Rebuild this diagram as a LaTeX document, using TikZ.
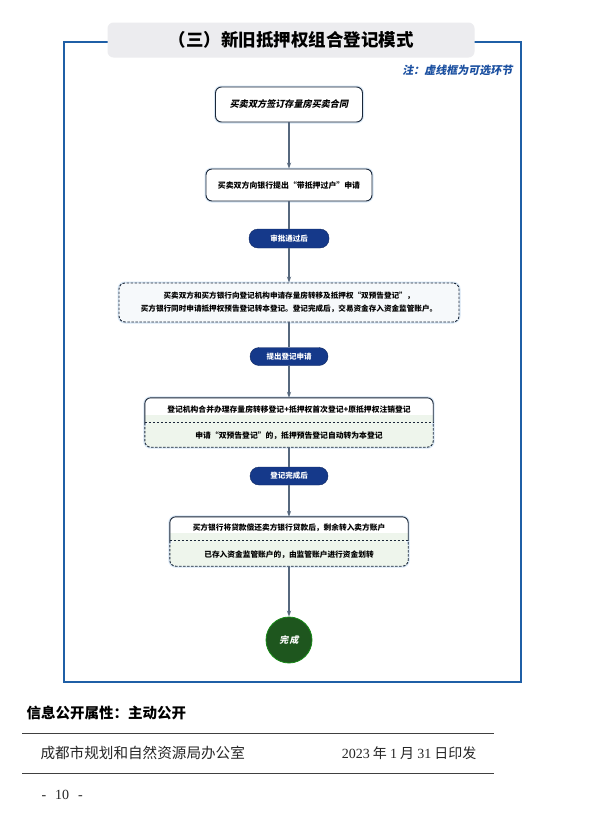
\documentclass[tikz,border=0pt]{standalone}
\usepackage{fontspec}
\setmainfont{Noto Sans CJK SC}
\newfontfamily\slantcjk[FakeSlant=0.2]{Noto Sans CJK SC}
\newfontfamily\serifnum{Liberation Serif}
\usetikzlibrary{arrows.meta}
\definecolor{frameblue}{HTML}{1F5FA6}
\definecolor{navy}{HTML}{1B2738}
\definecolor{pillblue}{HTML}{15398A}
\definecolor{arrowgray}{HTML}{56687E}
\definecolor{donegreen}{HTML}{1E561E}
\definecolor{lightgreen}{HTML}{EEF5EC}
\definecolor{lightfill}{HTML}{F6F9FB}
\definecolor{titlegray}{HTML}{ECECEF}
\definecolor{noteblue}{HTML}{1A4FA0}
\definecolor{glow}{HTML}{D6E6F5}
\tikzset{
  solidbox/.style={draw=navy, line width=0.9pt, rounded corners=6pt, fill=white, align=center, inner sep=0pt,
                   preaction={draw=glow, line width=3pt}},
  dashbox/.style={draw=navy, line width=0.9pt, dashed, dash pattern=on 2.5pt off 1.5pt, rounded corners=6pt, fill=lightfill, align=center, inner sep=0pt,
                  preaction={draw=glow, solid, line width=3pt}},
  part/.style={inner sep=0pt, align=center},
  pill/.style={fill=pillblue, draw=pillblue!70!black, rounded corners=9pt, text=white, inner sep=0pt, font=\fontsize{7.5}{9}\selectfont\bfseries},
  conn/.style={draw=arrowgray, line width=1.1pt},
  arr/.style={conn, -{Stealth[length=6pt,width=4.2pt]}},
  boxtxt/.style={font=\fontsize{7.6}{13}\selectfont\bfseries},
  navyline/.style={navy, line width=0.9pt, rounded corners=6pt},
  navydash/.style={navy, line width=0.9pt, dash pattern=on 2.5pt off 1.5pt, rounded corners=6pt},
  glowline/.style={glow, line width=3pt, rounded corners=6pt},
}
\begin{document}
\begin{tikzpicture}[x=1pt,y=-1pt]
\useasboundingbox (0,0) rectangle (591,827);
\fill[white] (0,0) rectangle (591,827);
% frame
\draw[frameblue, line width=1.6pt] (64,42) rectangle (521,682);
\node[fill=titlegray, rounded corners=6pt, minimum width=367pt, minimum height=35pt, inner sep=0pt,
      font=\fontsize{17.5}{20}\selectfont\bfseries] (title) at (291,40) {（三）新旧抵押权组合登记模式};
\node[anchor=east, text=noteblue, font=\fontsize{11}{13}\selectfont\slantcjk\bfseries] (note) at (516,70) {注：虚线框为可选环节};

% boxes
\node[solidbox, minimum width=147pt, minimum height=35pt, font=\fontsize{9.1}{11}\selectfont\slantcjk\bfseries] (b1) at (289,104.5) {买卖双方签订存量房买卖合同};
\node[solidbox, minimum width=166pt, minimum height=32pt, font=\fontsize{7.9}{10}\selectfont\bfseries] (b2) at (289,185) {买卖双方向银行提出“带抵押过户”申请};
\node[pill, minimum width=80pt, minimum height=19pt] (p1) at (289,238.5) {审批通过后};
\node[dashbox, minimum width=340pt, minimum height=39pt, boxtxt] (b3) at (289,302.5) {买卖双方和买方银行向登记机构申请存量房转移及抵押权“双预告登记”，\\买方银行同时申请抵押权预告登记转本登记。登记完成后，交易资金存入资金监管账户。};
\node[pill, minimum width=78pt, minimum height=18pt] (p2) at (289,356.5) {提出登记申请};

% box 4 (two parts)
\node[part, minimum width=288pt, minimum height=25pt] (b4a) at (289,410.5) {};
\node[part, minimum width=288pt, minimum height=24pt] (b4b) at (289,435) {};
\draw[glowline] (b4a.south west) -- (b4a.north west) -- (b4a.north east) -- (b4a.south east) -- (b4b.north east) -- (b4b.south east) -- (b4b.south west) -- (b4b.north west) -- cycle;
\fill[white, rounded corners=6pt] (b4a.south west) -- (b4a.north west) -- (b4a.north east) -- (b4a.south east) -- cycle;
\fill[lightgreen, rounded corners=6pt] (b4b.north west) -- (b4b.south west) -- (b4b.south east) -- (b4b.north east) -- cycle;
\fill[lightgreen] ([yshift=-0.5pt]b4b.north west) rectangle ([yshift=8pt]b4b.north east);
\draw[navyline] (b4a.south west) -- (b4a.north west) -- (b4a.north east) -- (b4a.south east);
\draw[navydash] (b4b.north west) -- (b4b.south west) -- (b4b.south east) -- (b4b.north east);
\draw[navydash] (b4b.north west) -- (b4b.north east);
\node[part, font=\fontsize{7.8}{10}\selectfont\bfseries] (t4a) at ([yshift=1pt]b4a.center) {登记机构合并办理存量房转移登记+抵押权首次登记+原抵押权注销登记};
\node[part, font=\fontsize{7.8}{10}\selectfont\bfseries] (t4b) at ([yshift=-1pt]b4b.center) {申请“双预告登记”的，抵押预告登记自动转为本登记};

\node[pill, minimum width=78pt, minimum height=18pt] (p3) at (289,476) {登记完成后};

% box 5 (two parts)
\node[part, minimum width=238pt, minimum height=24pt] (b5a) at (289,529) {};
\node[part, minimum width=238pt, minimum height=25pt] (b5b) at (289,553.5) {};
\draw[glowline] (b5a.south west) -- (b5a.north west) -- (b5a.north east) -- (b5a.south east) -- (b5b.north east) -- (b5b.south east) -- (b5b.south west) -- (b5b.north west) -- cycle;
\fill[white, rounded corners=6pt] (b5a.south west) -- (b5a.north west) -- (b5a.north east) -- (b5a.south east) -- cycle;
\fill[lightgreen, rounded corners=6pt] (b5b.north west) -- (b5b.south west) -- (b5b.south east) -- (b5b.north east) -- cycle;
\fill[lightgreen] ([yshift=-0.5pt]b5b.north west) rectangle ([yshift=8pt]b5b.north east);
\draw[navyline] (b5a.south west) -- (b5a.north west) -- (b5a.north east) -- (b5a.south east);
\draw[navydash] (b5b.north west) -- (b5b.south west) -- (b5b.south east) -- (b5b.north east);
\draw[navydash] (b5b.north west) -- (b5b.north east);
\node[part, font=\fontsize{7.7}{10}\selectfont\bfseries] (t5a) at ([yshift=1pt]b5a.center) {买方银行将贷款偿还卖方银行贷款后，剩余转入卖方账户};
\node[part, font=\fontsize{7.7}{10}\selectfont\bfseries] (t5b) at ([yshift=-1pt]b5b.center) {已存入资金监管账户的，由监管账户进行资金划转};

\node[circle, fill=donegreen, draw=donegreen!70!green, line width=0.8pt, minimum size=46pt, inner sep=0pt, text=white,
      font=\fontsize{9}{11}\selectfont\slantcjk\bfseries] (done) at (289,640) {完\,成};

% connectors
\draw[arr] (b1) -- (b2);
\draw[conn] (b2) -- (p1);
\draw[arr] (p1) -- (b3);
\draw[conn] (b3) -- (p2);
\draw[arr] (p2) -- (b4a.north);
\draw[conn] (b4b.south) -- (p3);
\draw[arr] (p3) -- (b5a.north);
\draw[arr] (b5b.south) -- (done);

% footer
\node[anchor=west, font=\fontsize{14.5}{16}\selectfont\bfseries] (attr) at (23,713) {信息公开属性：主动公开};
\coordinate (l1a) at (22,733); \coordinate (l1b) at (494,733);
\coordinate (l2a) at (22,773); \coordinate (l2b) at (494,773);
\draw[black!75, line width=1pt] (l1a) -- (l1b);
\draw[black!75, line width=1pt] (l2a) -- (l2b);
\node[anchor=west, font=\fontsize{14.6}{16}\selectfont, text=black!85] (office) at (37,753) {成都市规划和自然资源局办公室};
\node[anchor=east, font=\fontsize{14}{16}\selectfont, text=black!85] (date) at (480,753) {{\serifnum 2023} 年 {\serifnum 1} 月 {\serifnum 31} 日印发};
\node[anchor=west, font=\serifnum\fontsize{14}{16}\selectfont, text=black!85] (page) at (38,795) {-\hspace{9pt}10\hspace{9pt}-};
\end{tikzpicture}
\end{document}
